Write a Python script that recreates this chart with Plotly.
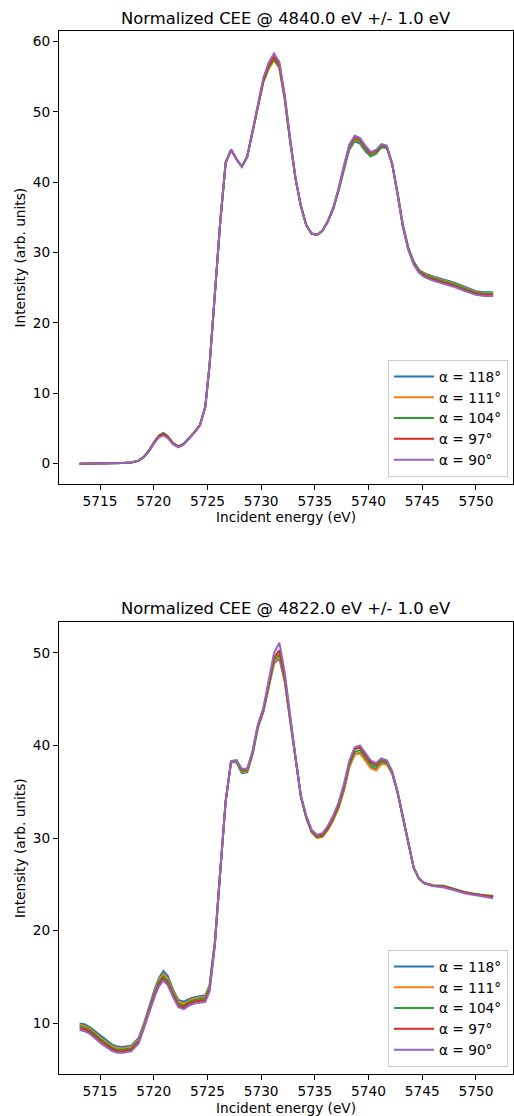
import plotly.graph_objects as go

# ---------------- data ----------------
energy = [5713.1, 5713.6, 5714.1, 5715.1, 5716.1, 5716.6, 5717.1, 5717.9, 5718.6, 5719.1,
          5719.6, 5720.1, 5720.5, 5720.9, 5721.3, 5721.8, 5722.3, 5722.8, 5723.3, 5723.8,
          5724.3, 5724.8, 5725.2, 5725.7, 5726.2, 5726.7, 5727.2, 5727.7, 5728.2, 5728.7,
          5729.2, 5729.7, 5730.2, 5730.7, 5731.2, 5731.7, 5732.2, 5732.7, 5733.2, 5733.7,
          5734.2, 5734.7, 5735.2, 5735.7, 5736.2, 5736.7, 5737.2, 5737.7, 5738.2, 5738.7,
          5739.2, 5739.7, 5740.2, 5740.7, 5741.2, 5741.7, 5742.2, 5742.7, 5743.2, 5743.7,
          5744.2, 5744.7, 5745.2, 5746.0, 5747.0, 5748.0, 5749.0, 5750.0, 5750.8, 5751.6]

series_labels = ["α = 118°", "α = 111°", "α = 104°", "α = 97°", "α = 90°"]

# CEE @ 4840.0 eV
top_118 = [-0.05, -0.05, -0.05, -0.05, 0.0, 0.0, 0.05, 0.15, 0.4, 0.95,
           1.9, 3.15, 3.9, 4.25, 3.8, 2.85, 2.4, 2.75, 3.55, 4.45,
           5.45, 8.05, 14.0, 24.0, 34.5, 42.8, 44.6, 43.3, 42.2, 43.6,
           47.3, 50.9, 54.3, 56.2, 57.4, 56.3, 51.9, 45.9, 40.5, 36.6,
           33.9, 32.7, 32.5, 33.1, 34.4, 36.1, 38.7, 41.7, 44.6, 45.8,
           45.5, 44.4, 43.7, 44.1, 45.0, 44.9, 42.6, 38.5, 33.9, 30.7,
           28.7, 27.55, 27.05, 26.6, 26.2, 25.7, 25.1, 24.5, 24.35, 24.35]
top_111 = [-0.05, -0.05, -0.05, -0.05, 0.0, 0.0, 0.05, 0.15, 0.4, 0.95,
           1.9, 3.15, 3.9, 4.25, 3.8, 2.85, 2.4, 2.75, 3.55, 4.45,
           5.45, 8.05, 14.0, 24.0, 34.5, 42.8, 44.6, 43.3, 42.2, 43.6,
           47.3, 50.8, 54.2, 56.1, 57.3, 56.2, 51.8, 45.8, 40.5, 36.6,
           33.9, 32.7, 32.5, 33.1, 34.4, 36.2, 38.8, 41.9, 44.8, 46.0,
           45.7, 44.6, 43.8, 44.2, 45.0, 44.9, 42.6, 38.4, 33.8, 30.6,
           28.6, 27.45, 26.95, 26.45, 26.05, 25.55, 24.95, 24.4, 24.2, 24.2]
top_104 = [-0.05, -0.05, -0.05, -0.05, 0.0, 0.0, 0.05, 0.15, 0.4, 1.0,
           1.95, 3.2, 4.0, 4.35, 3.9, 2.9, 2.45, 2.8, 3.55, 4.45,
           5.45, 8.05, 14.0, 24.0, 34.5, 42.8, 44.6, 43.3, 42.2, 43.6,
           47.3, 50.9, 54.3, 56.3, 57.5, 56.4, 51.9, 45.9, 40.5, 36.6,
           33.9, 32.7, 32.5, 33.1, 34.4, 36.2, 38.9, 42.0, 44.9, 46.1,
           45.8, 44.7, 43.7, 44.1, 45.0, 44.9, 42.6, 38.4, 33.8, 30.6,
           28.6, 27.4, 26.85, 26.35, 25.95, 25.45, 24.85, 24.3, 24.1, 24.1]
top_97 = [-0.05, -0.05, -0.05, -0.05, 0.0, 0.0, 0.05, 0.15, 0.4, 0.95,
          1.9, 3.15, 3.9, 4.2, 3.8, 2.85, 2.4, 2.75, 3.55, 4.45,
          5.45, 8.05, 14.0, 24.0, 34.5, 42.8, 44.6, 43.3, 42.2, 43.6,
          47.3, 51.0, 54.5, 56.6, 57.8, 56.7, 52.1, 46.0, 40.5, 36.6,
          33.9, 32.7, 32.5, 33.1, 34.4, 36.3, 39.0, 42.2, 45.1, 46.4,
          46.1, 45.0, 44.1, 44.4, 45.3, 45.1, 42.6, 38.3, 33.7, 30.5,
          28.4, 27.25, 26.65, 26.15, 25.75, 25.25, 24.65, 24.15, 23.95, 23.95]
top_90 = [-0.05, -0.05, -0.05, -0.05, 0.0, 0.0, 0.05, 0.15, 0.4, 0.9,
          1.8, 3.0, 3.7, 4.0, 3.6, 2.7, 2.3, 2.7, 3.5, 4.4,
          5.4, 8.0, 14.0, 24.0, 34.5, 42.8, 44.6, 43.3, 42.2, 43.6,
          47.4, 51.2, 54.8, 57.0, 58.3, 57.1, 52.4, 46.2, 40.6, 36.6,
          33.9, 32.7, 32.5, 33.1, 34.4, 36.3, 39.0, 42.3, 45.3, 46.6,
          46.3, 45.2, 44.3, 44.6, 45.4, 45.2, 42.6, 38.3, 33.6, 30.4,
          28.3, 27.1, 26.5, 26.0, 25.6, 25.1, 24.5, 24.0, 23.8, 23.8]

# CEE @ 4822.0 eV
bot_118 = [9.95, 9.85, 9.5, 8.55, 7.7, 7.45, 7.4, 7.55, 8.4, 10.0,
           11.9, 13.7, 14.9, 15.6, 15.1, 13.6, 12.5, 12.3, 12.6, 12.8,
           12.9, 13.0, 14.1, 18.9, 26.5, 34.0, 38.2, 38.2, 37.0, 37.1,
           39.0, 41.9, 43.6, 46.2, 48.9, 49.4, 46.9, 42.7, 38.4, 34.5,
           32.2, 30.65, 30.05, 30.15, 30.9, 31.95, 33.25, 35.15, 37.65, 39.05,
           39.2, 38.5, 37.7, 37.45, 38.1, 38.0, 37.0, 34.95, 32.2, 29.4,
           26.8, 25.6, 25.1, 24.85, 24.75, 24.4, 24.1, 23.9, 23.75, 23.65]
bot_111 = [9.8, 9.65, 9.35, 8.35, 7.5, 7.25, 7.25, 7.4, 8.25, 9.85,
           11.7, 13.5, 14.7, 15.3, 14.8, 13.4, 12.3, 12.1, 12.45, 12.65,
           12.75, 12.85, 13.95, 18.8, 26.5, 34.0, 38.2, 38.3, 37.1, 37.2,
           39.1, 42.0, 43.7, 46.3, 49.0, 49.6, 47.0, 42.8, 38.4, 34.5,
           32.2, 30.6, 30.0, 30.1, 30.85, 31.9, 33.2, 35.1, 37.6, 39.0,
           39.15, 38.4, 37.55, 37.3, 38.0, 37.95, 36.95, 34.9, 32.2, 29.4,
           26.8, 25.6, 25.1, 24.85, 24.8, 24.45, 24.1, 23.9, 23.75, 23.65]
bot_104 = [9.65, 9.5, 9.2, 8.2, 7.35, 7.1, 7.1, 7.25, 8.1, 9.7,
           11.55, 13.3, 14.45, 15.05, 14.55, 13.2, 12.1, 11.9, 12.3, 12.5,
           12.6, 12.7, 13.8, 18.7, 26.5, 34.0, 38.25, 38.3, 37.2, 37.3,
           39.2, 42.1, 43.8, 46.4, 49.2, 49.9, 47.2, 42.9, 38.4, 34.5,
           32.2, 30.7, 30.1, 30.2, 30.95, 32.05, 33.4, 35.35, 37.85, 39.3,
           39.5, 38.75, 37.95, 37.7, 38.3, 38.15, 37.05, 34.95, 32.2, 29.4,
           26.8, 25.6, 25.15, 24.9, 24.85, 24.5, 24.15, 23.95, 23.8, 23.75]
bot_97 = [9.45, 9.3, 9.0, 8.0, 7.2, 6.95, 6.95, 7.1, 7.95, 9.55,
          11.4, 13.1, 14.2, 14.8, 14.3, 13.0, 11.9, 11.7, 12.1, 12.3,
          12.4, 12.5, 13.6, 18.6, 26.5, 34.0, 38.3, 38.4, 37.4, 37.4,
          39.3, 42.2, 43.9, 46.6, 49.5, 50.3, 47.4, 43.0, 38.5, 34.5,
          32.3, 30.8, 30.2, 30.35, 31.1, 32.2, 33.6, 35.6, 38.1, 39.6,
          39.8, 39.0, 38.2, 37.95, 38.5, 38.3, 37.15, 35.0, 32.2, 29.4,
          26.8, 25.6, 25.1, 24.85, 24.75, 24.45, 24.1, 23.9, 23.75, 23.65]
bot_90 = [9.25, 9.1, 8.8, 7.8, 7.0, 6.8, 6.8, 6.95, 7.8, 9.4,
          11.2, 12.9, 14.0, 14.6, 14.1, 12.8, 11.7, 11.5, 11.9, 12.1,
          12.2, 12.3, 13.4, 18.5, 26.5, 34.0, 38.3, 38.4, 37.5, 37.5,
          39.4, 42.3, 44.0, 46.9, 50.0, 51.1, 47.9, 43.3, 38.6, 34.6,
          32.4, 30.9, 30.35, 30.5, 31.3, 32.4, 33.8, 35.8, 38.3, 39.8,
          40.0, 39.2, 38.4, 38.1, 38.6, 38.4, 37.2, 35.0, 32.2, 29.4,
          26.8, 25.6, 25.1, 24.8, 24.65, 24.35, 24.0, 23.8, 23.65, 23.5]

x_ticks = [5715, 5720, 5725, 5730, 5735, 5740, 5745, 5750]
top_y_ticks = [0, 10, 20, 30, 40, 50, 60]
bot_y_ticks = [10, 20, 30, 40, 50]

titles = ["Normalized CEE @ 4840.0 eV +/- 1.0 eV", "Normalized CEE @ 4822.0 eV +/- 1.0 eV"]
x_title = "Incident energy (eV)"
y_title = "Intensity (arb. units)"

# ---------------- figure ----------------
colors = ["#1f77b4", "#ff7f0e", "#2ca02c", "#d62728", "#9467bd"]
FONT = "DejaVu Sans"
TICK = 13.7

fig = go.Figure()
for ys, col, lab in zip([top_118, top_111, top_104, top_97, top_90], colors, series_labels):
    fig.add_trace(go.Scatter(x=energy, y=ys, mode="lines", name=lab,
                             line=dict(color=col, width=2), xaxis="x", yaxis="y",
                             legend="legend"))
for ys, col, lab in zip([bot_118, bot_111, bot_104, bot_97, bot_90], colors, series_labels):
    fig.add_trace(go.Scatter(x=energy, y=ys, mode="lines", name=lab,
                             line=dict(color=col, width=2), xaxis="x2", yaxis="y2",
                             legend="legend2"))

W, H = 514, 1116
ML, MR, MT, MB = 59, 1, 31, 42
plot_h = H - MT - MB
plot_w = W - ML - MR


def py(pix):
    return (H - MB - pix) / plot_h


def px(pix):
    return (pix - ML) / plot_w


axis_common = dict(showline=True, linecolor="black", linewidth=1, mirror=True,
                   ticks="outside", ticklen=5, tickwidth=1, tickcolor="black",
                   showgrid=False, zeroline=False,
                   tickfont=dict(family=FONT, size=TICK, color="black"))

legend_common = dict(xanchor="right", yanchor="bottom", bordercolor="#cccccc", borderwidth=1,
                     bgcolor="rgba(255,255,255,0.8)", font=dict(family=FONT, size=TICK, color="black"),
                     itemwidth=40, tracegroupgap=0, traceorder="normal")

fig.update_layout(
    width=W, height=H,
    margin=dict(l=ML, r=MR, t=MT, b=MB, pad=0),
    paper_bgcolor="white", plot_bgcolor="white",
    font=dict(family=FONT, color="black"),
    xaxis=dict(domain=[0, 1], anchor="y", range=[5711.18, 5753.45], tickvals=x_ticks, **axis_common),
    yaxis=dict(domain=[py(484), 1], anchor="x", range=[-2.92, 61.5], tickvals=top_y_ticks, **axis_common),
    xaxis2=dict(domain=[0, 1], anchor="y2", range=[5711.18, 5753.45], tickvals=x_ticks, **axis_common),
    yaxis2=dict(domain=[0, py(622)], anchor="x2", range=[4.49, 53.35], tickvals=bot_y_ticks, **axis_common),
    legend=dict(x=px(508), y=py(477), **legend_common),
    legend2=dict(x=px(508), y=py(1067), **legend_common),
    showlegend=True,
)

annots = [
    dict(text=titles[0], x=0.5, y=py(18), font=dict(size=16.4)),
    dict(text=titles[1], x=0.5, y=py(609), font=dict(size=16.4)),
    dict(text=x_title, x=0.5, y=py(517), font=dict(size=TICK)),
    dict(text=x_title, x=0.5, y=py(1108), font=dict(size=TICK)),
    dict(text=y_title, x=px(20), y=py(257.5), font=dict(size=TICK), textangle=-90),
    dict(text=y_title, x=px(20), y=py(848), font=dict(size=TICK), textangle=-90),
]
for a in annots:
    f = a.pop("font")
    fig.add_annotation(xref="paper", yref="paper", showarrow=False, xanchor="center", yanchor="middle",
                       font=dict(family=FONT, color="black", **f), **a)

fig.write_html("out.html")
